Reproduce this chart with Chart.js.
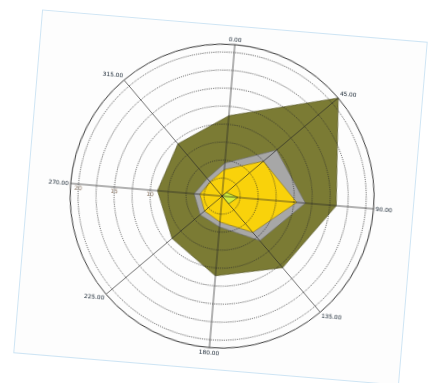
<!DOCTYPE html>
<html><head><meta charset="utf-8">
<script src="https://cdn.jsdelivr.net/npm/chart.js@4"></script>
<style>
html,body{margin:0;padding:0;background:#fff;width:429px;height:383px;overflow:hidden}
#card{position:absolute;left:27.9px;top:25.8px;width:385px;height:343px;background:#fdfdfd;outline:1px solid #cfe5f4;transform:rotate(4.8deg);transform-origin:50% 50%}
#c{position:absolute;left:0;top:0}
</style></head><body>
<div id="card"><canvas id="c" width="385" height="343"></canvas></div>
<script>
const angleLabels = ['0.00','45.00','90.00','135.00','180.00','225.00','270.00','315.00'];
const oliveValues  = [11.2, 21.1, 15.9, 13.0, 11.1, 9.1, 9.0, 9.5];
const grayValues   = [4.6, 9.9, 11.6, 8.1, 4.3, 4.0, 3.9, 3.2];
const yellowValues = [3.7, 7.5, 10.4, 6.6, 3.6, 3.2, 3.1, 2.6];
const greenValues  = [0, 0.8, 2.2, 1.4, 0, 0, 0, 0];
const radialTicks = [0, 2.5, 5, 7.5, 10, 12.5, 15, 17.5, 20, 21.1];
const tickLabelValues = [5, 10, 15, 20];
const rMax = 21.1;
const tickLabelIndex = 6; // drawn along 270.00

const tickLabelPlugin = {
  id: 'tickLabels',
  beforeDatasetsDraw(chart) {
    const s = chart.scales.r, ctx = chart.ctx;
    ctx.save();
    ctx.font = '6px "DejaVu Sans"';
    ctx.fillStyle = '#8f7a68';
    ctx.textAlign = 'center';
    ctx.textBaseline = 'middle';
    tickLabelValues.forEach(v => {
      const p = s.getPointPositionForValue(tickLabelIndex, v);
      ctx.fillText(String(v), p.x, p.y + 4);
    });
    ctx.restore();
  }
};

const last = radialTicks.length - 1;
new Chart(document.getElementById('c'), {
  type: 'radar',
  data: {
    labels: angleLabels,
    datasets: [
      {data: greenValues, backgroundColor: '#d2ee3c', borderColor: '#4f5a0a', borderWidth: 0.7, fill: true},
      {data: yellowValues, backgroundColor: '#f9d20b', borderColor: '#7a6a18', borderWidth: 0.6, fill: true},
      {data: grayValues, backgroundColor: '#a7a7a7', borderColor: '#666', borderWidth: 0.6, fill: true},
      {data: oliveValues, backgroundColor: '#7b7b34', borderColor: '#4d4d1c', borderWidth: 0.6, fill: true}
    ]
  },
  options: {
    responsive: false,
    animation: false,
    layout: {padding: {left: 12, right: 9, top: 10, bottom: 13}},
    elements: {point: {radius: 0, hoverRadius: 0}, line: {tension: 0}},
    plugins: {legend: {display: false}, tooltip: {enabled: false}},
    scales: {
      r: {
        min: 0, max: rMax, startAngle: 0,
        afterBuildTicks: s => { s.ticks = radialTicks.map(v => ({value: v})); },
        ticks: {display: false},
        grid: {
          z: 1, circular: true,
          color: c => c.index === last ? '#222' : '#2a2a2a',
          lineWidth: c => c.index === last ? 0.9 : 0.7
        },
        border: {dash: c => c.index === last ? [] : [1.2, 1]},
        angleLines: {color: '#262626', lineWidth: 0.7},
        pointLabels: {font: {family: 'DejaVu Sans', size: 5.8, lineHeight: '6px'}, color: '#14222f', padding: 2}
      }
    }
  },
  plugins: [tickLabelPlugin]
});
</script>
</body></html>
